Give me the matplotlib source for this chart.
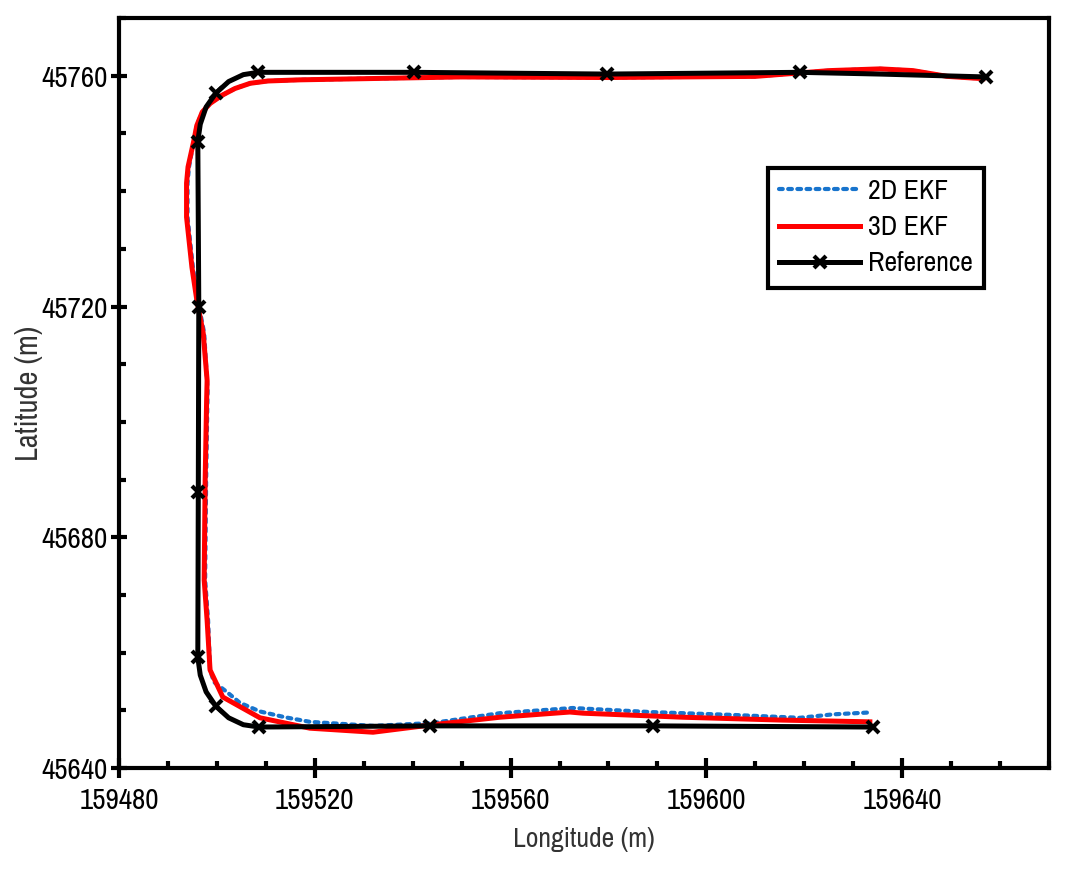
import matplotlib
matplotlib.use("Agg")
import matplotlib.pyplot as plt
from matplotlib.ticker import MultipleLocator

plt.rcParams['font.family'] = ['Liberation Sans Narrow', 'Archivo Narrow', 'Liberation Sans', 'DejaVu Sans']

# ---- data ----
ekf2d_lon = [159632.8, 159625.9, 159619.1, 159605.4, 159588.5, 159572.7, 159557.8, 159544.1,
             159531.9, 159519.0, 159513.9, 159508.8, 159504.7, 159502.0, 159499.4, 159498.6,
             159498.2, 159497.6, 159497.8,
             159498.1, 159497.4, 159496.1, 159495.1, 159494.0, 159494.0, 159494.3, 159495.3,
             159495.9, 159497.0, 159498.6, 159501.0, 159503.7, 159506.8, 159510.4, 159517.0,
             159549.7, 159580.0, 159610.0, 159625.2, 159635.5, 159642.2, 159649.2, 159656.5]
ekf2d_lat = [45649.6, 45649.3, 45648.7, 45649.2, 45649.7, 45650.4, 45649.5, 45647.8,
             45647.3, 45648.0, 45648.8, 45649.8, 45651.3, 45653.2, 45654.9, 45657.0,
             45665.6, 45672.6, 45689.9,
             45705.5, 45715.4, 45721.1, 45726.8, 45735.5, 45741.4, 45744.2, 45748.8,
             45751.4, 45753.7, 45755.2, 45756.6, 45757.8, 45758.7, 45759.1, 45759.3,
             45759.8, 45759.7, 45759.9, 45760.9, 45761.2, 45760.9, 45759.9, 45759.5]

ekf3d_lon = [159633.4, 159615.6, 159595.2, 159574.8, 159572.1, 159557.8, 159544.1, 159531.9,
             159519.0, 159508.8, 159501.2, 159498.6, 159498.0, 159497.4, 159497.6, 159497.9,
             159498.0, 159497.2, 159495.9, 159494.9, 159493.8, 159493.8, 159494.1, 159495.3,
             159495.9, 159497.0, 159498.6, 159501.0, 159503.7, 159506.8, 159510.4, 159517.0,
             159549.7, 159580.0, 159610.0, 159625.2, 159635.5, 159642.2, 159649.2, 159656.5]
ekf3d_lat = [45648.0, 45648.3, 45648.8, 45649.5, 45649.7, 45648.8, 45647.5, 45646.2,
             45646.9, 45648.7, 45652.3, 45657.0, 45665.6, 45672.6, 45689.9, 45703.8,
             45707.2, 45715.4, 45721.1, 45726.8, 45735.5, 45741.4, 45744.2, 45748.8,
             45751.4, 45753.7, 45755.2, 45756.6, 45757.8, 45758.7, 45759.1, 45759.3,
             45759.8, 45759.7, 45759.9, 45760.9, 45761.2, 45760.9, 45759.9, 45759.5]

ref_lon = [159634.0, 159589.1, 159543.5, 159508.6, 159505.4, 159502.4, 159499.8, 159497.8,
           159496.6, 159496.1, 159496.2, 159496.3, 159496.1, 159496.6, 159497.8, 159499.8,
           159502.4, 159505.4, 159508.4, 159540.3, 159579.7, 159619.1, 159635.5, 159657.1]
ref_lat = [45647.1, 45647.3, 45647.3, 45647.1, 45647.5, 45648.7, 45650.7, 45653.2,
           45656.1, 45659.2, 45687.8, 45719.9, 45748.6, 45751.6, 45754.6, 45757.0,
           45759.0, 45760.2, 45760.6, 45760.6, 45760.3, 45760.6, 45760.3, 45759.8]
ref_marks = [0, 1, 2, 3, 6, 9, 10, 11, 12, 15, 18, 19, 20, 21, 23]

x_ticks = [159480, 159520, 159560, 159600, 159640]
y_ticks = [45640, 45680, 45720, 45760]

# ---- figure ----
fig = plt.figure(figsize=(10.77, 8.75), dpi=100)
ax = fig.add_axes([0.1105, 0.1223, 0.8635, 0.857])

ax.plot(ekf2d_lon, ekf2d_lat, color='#1874CD', lw=3.0, linestyle=(0, (0.9, 1.3)),
        dash_capstyle='round', label='2D EKF', zorder=2)
ax.plot(ekf3d_lon, ekf3d_lat, color='#FF0000', lw=3.6, solid_joinstyle='round',
        label='3D EKF', zorder=3)
ax.plot(ref_lon, ref_lat, color='black', lw=3.6, solid_joinstyle='round',
        marker='x', markevery=ref_marks, markersize=9, markeredgewidth=3,
        label='Reference', zorder=4)

ax.set_xlim(159480, 159670)
ax.set_ylim(45640, 45770)
ax.set_xticks(x_ticks)
ax.set_yticks(y_ticks)
ax.xaxis.set_minor_locator(MultipleLocator(10))
ax.yaxis.set_minor_locator(MultipleLocator(10))

for s in ['left', 'bottom', 'right', 'top']:
    ax.spines[s].set_linewidth(3)

ax.tick_params(axis='x', which='major', direction='inout', length=14, width=3,
               labelsize=21, pad=7)
ax.tick_params(axis='y', which='major', direction='inout', length=12, width=3,
               labelsize=21, pad=2)
ax.tick_params(axis='both', which='minor', direction='in', length=5, width=3)

ax.set_xlabel('Longitude (m)', fontsize=20, color='#333333', labelpad=9)
ax.set_ylabel('Latitude (m)', fontsize=22, color='#333333', labelpad=-1)

leg = ax.legend(loc='upper left', bbox_to_anchor=(0.698, 0.8), fontsize=20,
                frameon=True, fancybox=False, handlelength=2.9, handletextpad=0.3,
                borderpad=0.4, labelspacing=0.4, borderaxespad=0)
leg.get_frame().set_edgecolor('black')
leg.get_frame().set_linewidth(3)
leg.get_frame().set_alpha(1)

fig.savefig('out.png', dpi=100)
